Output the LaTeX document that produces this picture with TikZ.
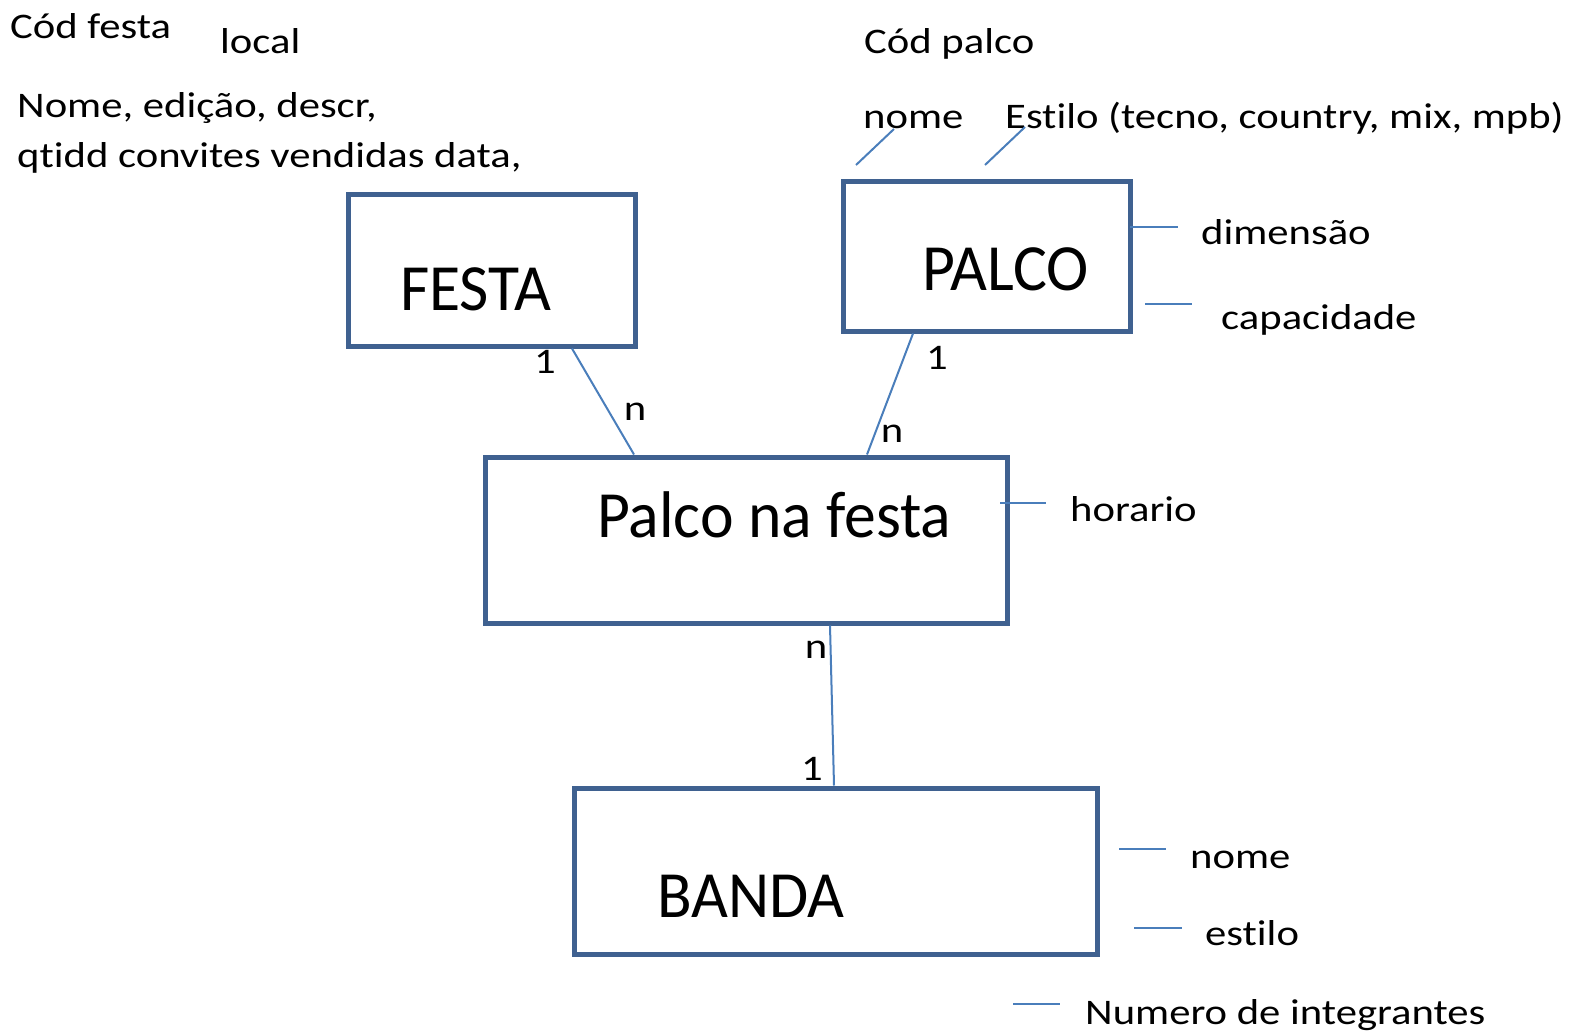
\documentclass[tikz,border=0pt]{standalone}
\usepackage{fontspec}
\setmainfont{Carlito}[Ligatures=NoCommon]
\newfontfamily\widefont{Carlito}[Ligatures=NoCommon,FakeStretch=1.185]
\newfontfamily\bigfont{Carlito}[Ligatures=NoCommon,FakeStretch=0.965]
\usetikzlibrary{calc}
\definecolor{boxblue}{HTML}{3F6190}
\definecolor{linkblue}{HTML}{4A7EBB}
\tikzset{
  entity/.style={draw=boxblue, line width=5pt, rectangle, inner sep=0pt},
  bigtxt/.style={anchor=base west, inner sep=0pt, font=\bigfont\fontsize{66}{78}\selectfont},
  smalltxt/.style={anchor=base west, inner sep=0pt, font=\widefont\fontsize{36}{43}\selectfont},
  link/.style={draw=linkblue, line width=2pt},
}
\begin{document}
\begin{tikzpicture}[x=1pt,y=-1pt]
\useasboundingbox (0,0) rectangle (1573,1033);
% entities
\node[entity, minimum width=287pt, minimum height=152pt] (festa) at (492,270) {};
\node[entity, minimum width=287pt, minimum height=150pt] (palco) at (987,256) {};
\node[entity, minimum width=522pt, minimum height=166pt] (pnf) at (746.5,540) {};
\node[entity, minimum width=523pt, minimum height=166pt] (banda) at (836,871) {};
\node[bigtxt] (tfesta) at (400,310) {FESTA};
\node[bigtxt] (tpalco) at (922,290) {PALCO};
\node[bigtxt] (tpnf) at (597,537) {Palco na festa};
\node[bigtxt] (tbanda) at (657,917) {BANDA};
% attributes text
\node[smalltxt] (codfesta) at (10,38) {Cód festa};
\node[smalltxt] (local) at (220,54) {local};
\node[smalltxt] (nomeed) at (17,117) {Nome, edição, descr,};
\node[smalltxt] (qtidd) at (17,167) {qtidd convites vendidas data,};
\node[smalltxt] (codpalco) at (864,54) {Cód palco};
\node[smalltxt] (nomep) at (863,128) {nome};
\node[smalltxt] (estilop) at (1005,128) {Estilo (tecno, country, mix, mpb)};
\node[smalltxt] (dimensao) at (1201,244) {dimensão};
\node[smalltxt] (capacidade) at (1221,329) {capacidade};
\node[smalltxt] (horario) at (1070,521) {horario};
\node[smalltxt] (nomeb) at (1190,868) {nome};
\node[smalltxt] (estilob) at (1205,945) {estilo};
\node[smalltxt] (numero) at (1085,1024) {Numero de integrantes};
% attribute ticks
\coordinate (a1) at (856,165); \coordinate (a2) at (894,129);
\coordinate (b1) at (985,165); \coordinate (b2) at (1025,127);
\coordinate (c1) at (1130,227); \coordinate (c2) at (1178,227);
\coordinate (d1) at (1145,304); \coordinate (d2) at (1192,304);
\coordinate (e1) at (1000,503); \coordinate (e2) at (1046,503);
\coordinate (f1) at (1119,849); \coordinate (f2) at (1166,849);
\coordinate (g1) at (1134,928); \coordinate (g2) at (1182,928);
\coordinate (h1) at (1013,1004); \coordinate (h2) at (1060,1004);
\foreach \p in {a,b,c,d,e,f,g,h} {\draw[link] (\p1) -- (\p2);}
% relationships
\coordinate (fs) at (festa.south -| 572,0);
\coordinate (pn1) at (pnf.north -| 634,0);
\coordinate (ps) at (palco.south -| 913,0);
\coordinate (pn2) at (pnf.north -| 867,0);
\coordinate (pns) at (pnf.south -| 830,0);
\coordinate (bn) at (banda.north -| 834,0);
\draw[link] (fs) -- (pn1);
\draw[link] (ps) -- (pn2);
\draw[link] (pns) -- (bn);
% cardinalities
\node[smalltxt, anchor=center] (c1a) at (545,362) {1};
\node[smalltxt, anchor=center] (c1b) at (635,412) {n};
\node[smalltxt, anchor=center] (c2a) at (937,358) {1};
\node[smalltxt, anchor=center] (c2b) at (892,434) {n};
\node[smalltxt, anchor=center] (c3a) at (816,650) {n};
\node[smalltxt, anchor=center] (c3b) at (812,769) {1};
\end{tikzpicture}
\end{document}
